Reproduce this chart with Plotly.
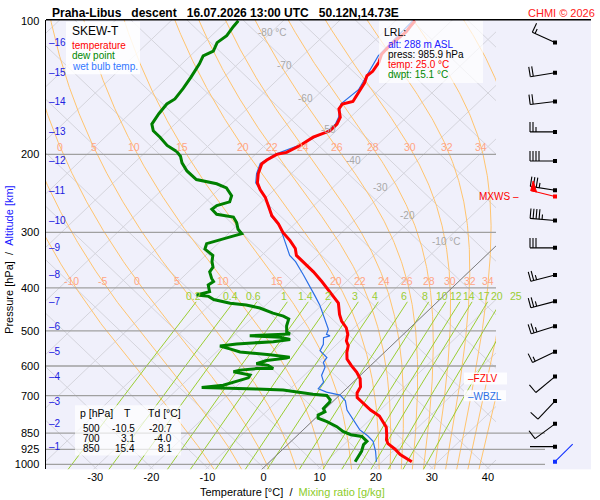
import numpy as np
import plotly.graph_objects as go

# ---- sounding data (pressure hPa, temperature degC) ----
temp_p = [985.9, 950, 923, 898, 880, 862, 824, 801, 778, 754, 729, 707, 690, 669, 641, 620,
          599, 579, 559, 540, 527, 509, 492, 475, 459, 433, 422, 404, 387, 368, 349, 338,
          326, 313, 300, 287, 275, 261, 250, 240, 232, 221, 210, 206, 200, 198, 191, 183,
          177, 171, 165, 158, 154, 152, 143, 138, 133, 130, 124, 119, 113, 106, 103, 100]
temp_t = [25.3, 21.9, 19.9, 17.7, 16.7, 16.0, 14.3, 12.7, 11.0, 8.3, 5.8, 3.6, 2.7, 2.2, 0.6, -1.2,
          -3.4, -5.4, -6.7, -7.7, -8.9, -9.9, -11.4, -13.5, -15.1, -17.4, -19.0, -21.7, -24.4, -27.7, -31.4, -33.8,
          -35.3, -37.7, -40.5, -42.9, -45.6, -48.1, -50.2, -52.6, -54.3, -55.9, -57.1, -56.9, -56.2, -54.8, -53.7, -52.9,
          -51.1, -51.1, -51.8, -53.6, -53.9, -52.5, -53.4, -53.9, -54.8, -54.6, -55.2, -56.2, -56.4, -56.0, -56.3, -56.5]

dwpt_p = [985.9, 934, 902, 887, 865, 857, 843, 822, 801, 787, 774, 761, 748, 723, 715, 699.5,
          695, 680, 676, 671, 663, 653, 646, 638, 629, 624, 618, 613, 608, 608, 598, 593,
          583, 576, 573, 566, 558, 549, 541, 535, 529, 523, 517, 513, 511, 508, 502, 487,
          470, 463, 456, 444, 437, 433, 425, 418, 415, 408, 394, 387, 381, 368, 359, 349,
          338, 327, 318, 313, 305, 302, 295, 285, 277, 273, 266, 261, 256, 248, 238, 233,
          228, 218, 209, 202, 197, 191, 183, 177, 171, 162, 154, 150, 142, 134, 125, 120,
          117, 112, 108, 103, 100]
dwpt_t = [15.2, 14.4, 13.5, 13.5, 11.7, 9.4, 7.4, 5.4, 2.7, 0.5, -0.1, 0.5, -0.4, -0.5, -0.8, -2.2,
          -4.9, -11.0, -15.9, -26.0, -22.6, -21.3, -20.6, -19.5, -19.7, -21.2, -23.3, -22.4, -19.7, -16.8, -18.3, -20.7,
          -19.5, -16.4, -16.0, -20.0, -25.8, -28.2, -30.5, -27.9, -21.8, -19.2, -21.4, -27.1, -24.2, -20.3, -21.3, -22.4,
          -23.3, -24.8, -27.2, -30.5, -33.5, -36.7, -40.3, -41.8, -44.2, -42.5, -44.0, -43.7, -44.6, -46.2, -46.5, -47.7,
          -48.7, -51.3, -52.0, -50.8, -48.5, -47.6, -49.1, -50.6, -52.2, -55.7, -57.5, -57.3, -55.7, -56.5, -58.9, -61.4,
          -65.8, -69.1, -71.5, -73.0, -74.6, -77.4, -80.2, -82.6, -84.1, -84.8, -85.2, -84.7, -85.2, -85.9, -86.9, -87.7,
          -86.8, -87.7, -87.3, -87.8, -88.0]

wetb_p = [985.9, 934, 887, 862, 836, 794, 754, 719, 698, 687, 675, 652, 630, 604, 589, 574,
          554, 536, 518, 513, 509, 496, 475, 459, 437, 418, 397, 374, 349, 338, 305, 290,
          275, 263, 250, 232, 221, 210, 200, 191, 177, 171, 165, 154, 143, 120, 100]
wetb_t = [19.0, 16.9, 14.6, 12.6, 10.1, 7.1, 4.1, 2.1, 0.1, -2.9, -5.0, -5.3, -6.9, -7.8, -9.0, -9.3,
          -11.8, -12.4, -13.6, -12.8, -13.7, -14.3, -16.4, -18.0, -20.4, -22.8, -25.6, -28.9, -32.8, -35.0, -39.9, -42.3,
          -45.8, -47.6, -50.2, -54.6, -56.2, -57.4, -56.5, -54.0, -51.4, -51.4, -52.1, -54.2, -53.7, -56.5, -56.9]

# altitude marks (km) and winds at those heights
alt_km = list(range(1, 17))
alt_p = [912, 810, 720, 634, 557, 488, 429, 374, 325, 282, 241, 207, 178, 152, 131, 112]
wind_dir = [270, 233, 223, 230, 244, 252, 255, 255, 270, 275, 279, 270, 270, 263, 261, 295]
wind_kt = [0, 10, 10, 10, 15, 25, 25, 25, 30, 45, 35, 40, 25, 20, 20, 15]

mxws_p, mxws_dir, mxws_kt = 249, 284, 50
sfc_p, sfc_dir, sfc_kt = 985.9, 45, 0

fzlv_p = 640
wbzl_p = 702

lrl_alt, lrl_p, lrl_t, lrl_td = 288, 985.9, 25.0, 15.1

tab_p = [500, 700, 850]
tab_t = [-10.5, 3.1, 15.4]
tab_td = [-20.7, -4.0, 8.1]

theta_w = [-10, -5, 0, 5, 10, 15, 20, 22, 24, 26, 28, 30, 32, 34, 36, 38]
mix_ratios = [0.2, 0.4, 0.6, 1, 1.4, 2, 3, 4, 6, 8, 10, 12, 14, 17, 20, 25]
iso_lab_t = [-80, -70, -60, -50, -40, -30, -20, -10]
iso_lab_p = [106, 126, 150, 176, 206, 238, 275, 314]
p_lines = [200, 300, 400, 500, 600, 700, 850, 925, 1000]
p_ticks = [100, 200, 300, 400, 500, 600, 700, 850, 925, 1000]
t_ticks = [-30, -20, -10, 0, 10, 20, 30, 40]

# ---- skew-T geometry ----
SKEW = 36.0
P_REF = 1017.0
XMIN, XMAX = -38.78, 41.43
P_BOT, P_TOP = 1026.0, 99.5
W, H = 600, 500
PX_LN = 455.0 / np.log(P_BOT / P_TOP)   # pixels per ln(p) on the pressure axis


def skx(t, p):
    return np.asarray(t) + SKEW * np.log(P_REF / np.asarray(p, dtype=float))


def xp(px):
    return px / W


def yp(py):
    return 1 - py / H


def x_paper(X):
    return xp(46 + (X - XMIN) / (XMAX - XMIN) * 450)


def es(tk):
    return 6.112 * np.exp(17.67 * (tk - 273.15) / (tk - 29.65))


def moist_rate(tk, p):
    rd, lv, cp, eps = 287.04, 2.501e6, 1005.7, 0.622
    e = es(tk)
    rs = eps * e / (p - e)
    return (rd * tk + lv * rs) / (cp + lv * lv * rs * eps / (rd * tk * tk))


def moist_adiabats(tw):
    out = []
    for lo, hi, n in ((1000, 99, 260), (1000, 1035, 6)):
        lnp = np.linspace(np.log(lo), np.log(hi), n)
        t = np.array(tw, dtype=float) + 273.15
        rows = [t.copy()]
        for i in range(n - 1):
            h = lnp[i + 1] - lnp[i]
            p0, p1 = np.exp(lnp[i]), np.exp(lnp[i + 1])
            pm = np.exp(0.5 * (lnp[i] + lnp[i + 1]))
            k1 = moist_rate(t, p0)
            k2 = moist_rate(t + 0.5 * h * k1, pm)
            k3 = moist_rate(t + 0.5 * h * k2, pm)
            k4 = moist_rate(t + h * k3, p1)
            t = t + h / 6 * (k1 + 2 * k2 + 2 * k3 + k4)
            rows.append(t.copy())
        out.append((np.exp(lnp), np.array(rows) - 273.15))
    (pu, tu), (pd, td) = out
    p_all = np.concatenate([pd[::-1], pu[1:]])
    t_all = np.vstack([td[::-1], tu[1:]])
    return p_all, t_all


def mix_td(w, p):
    e = w * p / (622.0 + w)
    a = np.log(e / 6.112)
    return 243.5 * a / (17.67 - a)


fig = go.Figure()
line_kw = dict(mode="lines", hoverinfo="skip", showlegend=False)

# gray crosshatch
gx, gy = [], []
for t in range(-140, 60, 10):
    gx += [skx(t, 1035), skx(t, 98), None]
    gy += [1035, 98, None]
for c in range(-40, 140, 10):
    gx += [c - SKEW * np.log(P_REF / 1035), c - SKEW * np.log(P_REF / 98), None]
    gy += [1035, 98, None]
fig.add_trace(go.Scatter(x=gx, y=gy, line=dict(color="#d4d4dc", width=1), **line_kw))

# moist adiabats
ma_p, ma_t = moist_adiabats(theta_w)
mx, my = [], []
for j in range(len(theta_w)):
    mx += list(skx(ma_t[:, j], ma_p)) + [None]
    my += list(ma_p) + [None]
fig.add_trace(go.Scatter(x=mx, y=my, line=dict(color="#ffc46e", width=1), **line_kw))

# mixing ratio lines
mp = np.linspace(1035, 430, 40)
rx, ry = [], []
for w in mix_ratios:
    rx += list(skx(mix_td(w, mp), mp)) + [None]
    ry += list(mp) + [None]
fig.add_trace(go.Scatter(x=rx, y=ry, line=dict(color="#9acd32", width=1), **line_kw))

# pressure lines
hx, hy = [], []
for p in p_lines:
    hx += [XMIN, XMAX, None]
    hy += [p, p, None]
fig.add_trace(go.Scatter(x=hx, y=hy, line=dict(color="#a0a0a0", width=1.3), **line_kw))
hx2, hy2 = [], []
for p in p_lines[-3:]:
    hx2 += [0, 49, None]
    hy2 += [p, p, None]
fig.add_trace(go.Scatter(x=hx2, y=hy2, xaxis="x2", yaxis="y",
                         line=dict(color="#a0a0a0", width=1.3), **line_kw))

# 0 degC isotherm
fig.add_trace(go.Scatter(x=[skx(0, 1035), skx(0, 98)], y=[1035, 98],
                         line=dict(color="#808080", width=1), **line_kw))

# sounding
fig.add_trace(go.Scatter(x=skx(wetb_t, wetb_p), y=wetb_p, line=dict(color="#2b6fe6", width=1.2), **line_kw))
fig.add_trace(go.Scatter(x=skx(dwpt_t, dwpt_p), y=dwpt_p, line=dict(color="#008000", width=3), **line_kw))
fig.add_trace(go.Scatter(x=skx(temp_t, temp_p), y=temp_p, line=dict(color="#ff0000", width=3), **line_kw))


# wind barbs
def barb(p, d, kt, x0=59.0, L=25.0):
    th = np.radians(d)
    sx, sy = np.sin(th), -np.cos(th)
    fx, fy = -sy, sx
    segs = [((0, 0), (L * sx, L * sy))]
    tris = []
    pos = L
    rem = int(round(kt / 5.0)) * 5
    while rem >= 50:
        tris.append([(pos * sx, pos * sy), (pos * sx + 10 * fx, pos * sy + 10 * fy),
                     ((pos - 6) * sx, (pos - 6) * sy)])
        pos -= 8
        rem -= 50
    while rem >= 10:
        segs.append(((pos * sx, pos * sy), (pos * sx + 10 * fx, pos * sy + 10 * fy)))
        pos -= 3
        rem -= 10
    if rem >= 5:
        if pos == L:
            pos -= 3
        segs.append(((pos * sx, pos * sy), (pos * sx + 5 * fx, pos * sy + 5 * fy)))

    def conv(pt):
        return x0 + pt[0], p * np.exp(pt[1] / PX_LN)

    lx, ly = [], []
    for a, b in segs:
        for q in (a, b):
            u, v = conv(q)
            lx.append(u)
            ly.append(v)
        lx.append(None)
        ly.append(None)
    tx, ty = [], []
    for tri in tris:
        for q in tri + [tri[0]]:
            u, v = conv(q)
            tx.append(u)
            ty.append(v)
        tx.append(None)
        ty.append(None)
    return lx, ly, tx, ty


def add_barbs(ps, ds, ks, color):
    ax, ay, bx, by = [], [], [], []
    for p, d, k in zip(ps, ds, ks):
        lx, ly, tx, ty = barb(p, d, k)
        ax += lx
        ay += ly
        bx += tx
        by += ty
    fig.add_trace(go.Scatter(x=ax, y=ay, xaxis="x2", yaxis="y",
                             line=dict(color=color, width=1.1), **line_kw))
    if bx:
        fig.add_trace(go.Scatter(x=bx, y=by, xaxis="x2", yaxis="y", fill="toself",
                                 fillcolor=color, line=dict(color=color, width=1), **line_kw))
    fig.add_trace(go.Scatter(x=[59] * len(ps), y=ps, xaxis="x2", yaxis="y", mode="markers",
                             marker=dict(color=color, size=4, symbol="square"),
                             hoverinfo="skip", showlegend=False))


add_barbs(alt_p, wind_dir, wind_kt, "black")
add_barbs([mxws_p], [mxws_dir], [mxws_kt], "#ff0000")
add_barbs([sfc_p], [sfc_dir], [sfc_kt], "#1030ff")

# ---- annotations ----
ann = []
FONT = "Arial, Liberation Sans, sans-serif"


def txt(x, y, text, size=10, color="black", xa="left", ya="middle", xref="paper", yref="paper", **kw):
    ann.append(dict(x=x, y=y, xref=xref, yref=yref, text=text, showarrow=False,
                    xanchor=xa, yanchor=ya, font=dict(size=size, color=color, family=FONT), **kw))


txt(xp(50), yp(8), "<b>Praha-Libus\u00a0\u00a0 descent\u00a0\u00a0 16.07.2026 13:00 UTC\u00a0\u00a0 50.12N,14.73E</b>", 12)
txt(xp(597), yp(8), "CHMI © 2026", 11, "#ff2020", xa="right")

# altitude labels
for km, p in zip(alt_km, alt_p):
    txt(xp(47), np.log10(p), "–" + str(km), 10, "#2020e0", yref="y")

# isotherm labels
for t, p in zip(iso_lab_t, iso_lab_p):
    X = float(skx(t, p))
    label = "%d" % t
    if t in (-80, -10):
        txt(X, np.log10(p), label + " °C", 10, "#a8a8a8", xa="left", xref="x", yref="y", xshift=-15)
    else:
        txt(X, np.log10(p), label, 10, "#a8a8a8", xa="right", xref="x", yref="y", xshift=1)

# moist adiabat labels
for row_p, first in ((385, -10), (193, 0)):
    for j, tw in enumerate(theta_w):
        if tw < first or tw > 34:
            continue
        tr = np.interp(np.log(row_p), np.log(ma_p[::-1]), ma_t[::-1, j])
        X = float(skx(tr, row_p))
        if XMIN + 1 < X < XMAX:
            txt(X, np.log10(row_p), str(tw), 10.5, "#ffa585", xa="center", xref="x", yref="y")

# mixing ratio labels
for w in mix_ratios:
    X = float(skx(mix_td(w, 418), 418))
    txt(x_paper(X), np.log10(418), ("%g" % w), 10.5, "#9acd32", xa="center", yref="y", xshift=-7)

# level markers
txt(xp(466), np.log10(fzlv_p), "–FZLV", 10, "#ff0000", yref="y")
txt(xp(466), np.log10(wbzl_p), "–WBZL", 10, "#2b6fe6", yref="y")
txt(xp(521), np.log10(mxws_p), "MXWS –", 10, "#ff0000", xa="right", yref="y")

# legend box
txt(xp(70), yp(26), "SKEW-T", 12)
txt(xp(70), yp(41), "temperature", 10, "#ff0000")
txt(xp(70), yp(51), "dew point", 10, "#008800")
txt(xp(70), yp(62), "wet bulb temp.", 10, "#3377ff")

# LRL box
txt(xp(382), yp(27), "LRL:", 10.5)
txt(xp(386), yp(40), "alt: %d m ASL" % lrl_alt, 10, "#2020ff")
txt(xp(386), yp(50), "press: %.1f hPa" % lrl_p, 10)
txt(xp(386), yp(60), "temp: %.1f °C" % lrl_t, 10, "#ff0000")
txt(xp(386), yp(70), "dwpt: %.1f °C" % lrl_td, 10, "#008800")

# table box
txt(xp(78), yp(413), "p [hPa]", 10.5)
txt(xp(127), yp(413), "T", 10.5, xa="center")
txt(xp(146), yp(413), "Td [°C]", 10.5)
for i, p in enumerate(tab_p):
    yy = yp(428.5 + 10 * i)
    txt(xp(102), yy, str(p), 10, xa="right")
    txt(xp(137), yy, "%.1f" % tab_t[i], 10, xa="right")
    txt(xp(174), yy, "%.1f" % tab_td[i], 10, xa="right")

# axis titles
txt(xp(292), yp(493), "Temperature [°C]\u00a0\u00a0/\u00a0\u00a0<span style='color:#8ccc2a'>Mixing ratio [g/kg]</span>",
    11, xa="center")
txt(xp(9), yp(258), "Pressure [hPa]\u00a0\u00a0/\u00a0\u00a0<span style='color:#2020ff'>Altitude [km]</span>",
    11, xa="center", textangle=-90)

shapes = [
    dict(type="rect", xref="paper", yref="paper", x0=xp(66), x1=xp(140), y0=yp(17), y1=yp(70),
         fillcolor="rgba(255,255,255,0.85)", line=dict(width=0), layer="above"),
    dict(type="rect", xref="paper", yref="paper", x0=xp(379), x1=xp(483), y0=yp(16), y1=yp(79),
         fillcolor="rgba(255,255,255,0.7)", line=dict(width=0), layer="above"),
    dict(type="rect", xref="paper", yref="paper", x0=xp(75), x1=xp(181), y0=yp(405), y1=yp(456),
         fillcolor="rgba(255,255,255,0.7)", line=dict(width=0), layer="above"),
    dict(type="rect", xref="paper", yref="paper", x0=xp(464), x1=xp(507), y0=yp(372), y1=yp(384),
         fillcolor="rgba(255,255,255,0.85)", line=dict(width=0), layer="above"),
    dict(type="rect", xref="paper", yref="paper", x0=xp(464), x1=xp(506), y0=yp(390), y1=yp(401),
         fillcolor="rgba(255,255,255,0.85)", line=dict(width=0), layer="above"),
    dict(type="line", xref="paper", yref="paper", x0=xp(46), x1=xp(591), y0=yp(15), y1=yp(15),
         line=dict(color="black", width=1.5), layer="above"),
]

fig.update_layout(
    width=W, height=H, autosize=False,
    margin=dict(l=0, r=0, t=0, b=0),
    paper_bgcolor="white", plot_bgcolor="#f0f0fb",
    font=dict(family=FONT, size=11, color="black"),
    hovermode=False,
    xaxis=dict(domain=[xp(46), xp(496)], range=[XMIN, XMAX], showgrid=False, zeroline=False,
               showline=False, ticks="", tickvals=t_ticks, ticktext=[str(t) for t in t_ticks],
               tickfont=dict(size=11), anchor="y"),
    xaxis2=dict(domain=[xp(496), xp(591)], range=[0, 95], showgrid=False, zeroline=False,
                showline=False, showticklabels=False, ticks="", anchor="y"),
    yaxis=dict(domain=[yp(470), yp(15)], type="log", range=[np.log10(P_BOT), np.log10(P_TOP)],
               showgrid=False, zeroline=False, showline=True, linecolor="black", linewidth=1.5,
               ticks="", tickvals=p_ticks, ticktext=[str(p) for p in p_ticks],
               tickfont=dict(size=11), anchor="x", ticklabelstandoff=3),
    annotations=ann,
    shapes=shapes,
)

fig.write_html("out.html", config={"displayModeBar": False, "staticPlot": True},
               post_script="document.body.style.margin='0';document.body.style.overflow='hidden';")
